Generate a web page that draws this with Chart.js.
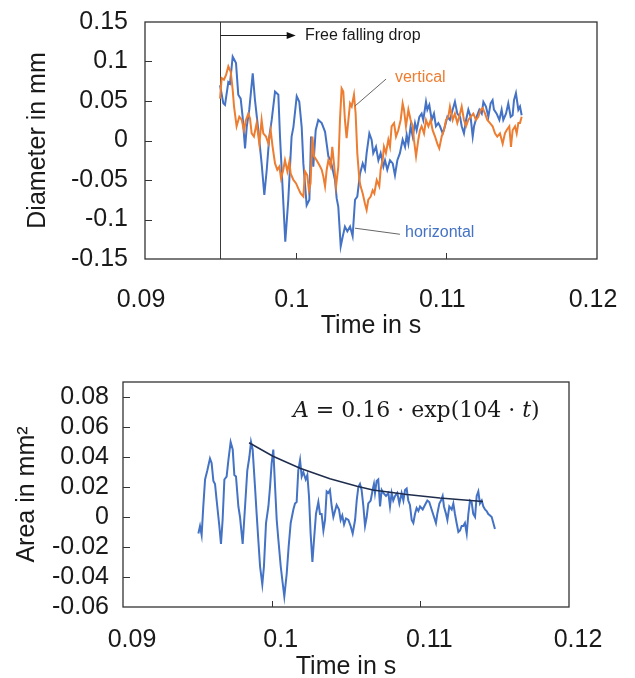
<!DOCTYPE html>
<html>
<head>
<meta charset="utf-8">
<title>Drop oscillation</title>
<script src="https://cdn.jsdelivr.net/npm/chart.js@4.4.0/dist/chart.umd.min.js"></script>
<style>
  html, body { margin: 0; padding: 0; background: #fff; overflow: hidden; }
  #wrap { position: relative; width: 635px; height: 678px; overflow: hidden; }
  canvas { position: absolute; left: 0; }
  #top { top: 0; }
  #bottom { top: 345px; }
</style>
</head>
<body>
<div id="wrap">
  <canvas id="top" width="635" height="345"></canvas>
  <canvas id="bottom" width="635" height="345"></canvas>
</div>
<script>
// times in ms, values in mm / mm²
const tHoriz = [94.98,95.20,95.31,95.53,95.64,95.82,96.04,96.19,96.35,96.48,96.64,96.75,96.92,97.15,97.30,97.52,97.74,97.92,98.08,98.25,98.41,98.63,98.85,98.96,99.14,99.31,99.51,99.73,99.85,100.07,100.24,100.40,100.51,100.73,100.91,101.02,101.17,101.33,101.50,101.73,101.95,102.17,102.32,102.46,102.61,102.72,102.83,102.99,103.12,103.27,103.43,103.61,103.78,103.94,104.09,104.27,104.45,104.60,104.71,104.89,105.04,105.15,105.33,105.49,105.64,105.82,105.93,106.08,106.26,106.44,106.59,106.75,106.92,107.10,107.26,107.37,107.48,107.63,107.77,107.92,108.03,108.21,108.36,108.47,108.65,108.74,108.87,109.03,109.18,109.31,109.47,109.58,109.76,109.91,110.07,110.24,110.42,110.57,110.73,110.91,111.02,111.17,111.31,111.46,111.61,111.75,111.84,112.01,112.19,112.35,112.46,112.63,112.79,112.94,113.07,113.16,113.34,113.52,113.67,113.78,113.96,114.11,114.27,114.40,114.49,114.62,114.78,114.89,115.00];
const dHoriz = [0.070,0.047,0.045,0.074,0.072,0.106,0.098,0.058,0.053,0.030,-0.010,0.017,0.039,0.085,0.051,0.013,-0.029,-0.069,-0.037,0.005,0.026,0.062,0.058,0.005,-0.063,-0.128,-0.075,0.005,0.017,0.056,0.049,0.017,-0.029,-0.082,-0.075,0.005,-0.033,0.013,0.026,0.022,0.011,-0.020,-0.025,-0.037,-0.050,-0.073,-0.084,-0.134,-0.122,-0.109,-0.115,-0.109,-0.121,-0.075,-0.071,-0.042,-0.029,-0.037,-0.016,0.009,0.001,-0.016,-0.008,-0.025,-0.016,-0.033,-0.025,-0.037,-0.025,-0.029,-0.044,-0.025,-0.016,0.001,-0.008,0.007,-0.004,0.018,0.005,0.022,0.013,0.030,0.034,0.026,0.049,0.039,0.045,0.026,0.034,0.018,0.022,0.018,0.009,0.018,0.030,0.026,0.039,0.049,0.034,0.030,0.018,0.009,0.026,0.039,0.030,0.005,0.018,0.030,0.039,0.034,0.049,0.043,0.030,0.047,0.051,0.039,0.034,0.026,0.039,0.026,0.034,0.047,0.030,0.032,0.051,0.060,0.039,0.043,0.032];

const tVert = [94.98,95.09,95.24,95.38,95.53,95.69,95.82,95.91,96.08,96.26,96.42,96.57,96.70,96.86,96.97,97.08,97.23,97.41,97.59,97.74,97.85,98.03,98.19,98.34,98.47,98.63,98.78,98.92,99.03,99.18,99.29,99.45,99.58,99.67,99.85,100.02,100.18,100.33,100.51,100.62,100.77,100.88,100.99,101.11,101.22,101.39,101.57,101.73,101.84,101.95,102.06,102.17,102.32,102.43,102.54,102.68,102.83,102.94,103.05,103.16,103.27,103.38,103.50,103.61,103.72,103.87,103.98,104.09,104.23,104.31,104.45,104.60,104.71,104.82,104.98,105.11,105.22,105.38,105.55,105.64,105.77,105.86,105.99,106.15,106.26,106.37,106.53,106.66,106.81,106.97,107.10,107.19,107.32,107.48,107.63,107.77,107.85,107.99,108.14,108.25,108.36,108.52,108.65,108.81,108.96,109.09,109.25,109.40,109.53,109.69,109.84,109.98,110.13,110.24,110.42,110.57,110.73,110.86,111.02,111.17,111.31,111.46,111.61,111.79,111.97,112.12,112.28,112.41,112.57,112.72,112.90,113.07,113.23,113.38,113.56,113.74,113.89,114.00,114.18,114.29,114.40,114.56,114.67,114.78,114.89,115.00];
const dVert = [0.053,0.079,0.077,0.083,0.094,0.087,0.064,0.043,0.018,0.030,0.026,0.013,0.026,0.034,0.028,0.009,0.005,0.022,-0.004,0.026,0.009,0.005,-0.004,0.013,-0.008,-0.029,-0.037,-0.033,-0.048,-0.037,-0.025,-0.039,-0.027,-0.042,-0.050,-0.054,-0.061,-0.067,-0.071,-0.039,-0.044,-0.063,-0.054,0.005,-0.020,-0.025,-0.031,-0.037,-0.046,-0.058,-0.037,-0.025,-0.033,-0.008,-0.029,-0.058,-0.033,0.026,0.066,0.062,0.026,0.003,0.026,0.047,0.043,0.058,0.034,-0.016,-0.050,-0.058,-0.067,-0.080,-0.088,-0.075,-0.071,-0.063,-0.067,-0.050,-0.058,-0.037,-0.025,-0.008,-0.016,0.001,-0.008,0.018,0.022,0.005,0.013,0.026,0.047,0.039,0.018,0.039,0.026,0.018,0.001,-0.020,0.001,0.013,0.018,0.009,0.026,0.018,0.026,0.013,0.005,-0.004,-0.010,0.005,0.013,0.026,0.030,0.043,0.026,0.034,0.022,0.030,0.043,0.026,0.018,0.026,0.030,0.034,0.026,0.030,0.039,0.041,0.034,0.026,0.022,0.018,0.009,0.005,0.009,-0.004,0.009,0.013,0.018,-0.008,0.013,0.018,0.009,0.022,0.022,0.030];

const tArea = [95.07,95.18,95.29,95.40,95.52,95.67,95.85,95.96,96.08,96.19,96.30,96.48,96.59,96.70,96.82,96.97,97.09,97.24,97.38,97.49,97.60,97.76,97.87,98.05,98.21,98.36,98.50,98.61,98.72,98.88,98.99,99.10,99.22,99.37,99.48,99.62,99.78,99.89,100.00,100.11,100.23,100.34,100.45,100.61,100.74,100.85,101.01,101.14,101.28,101.46,101.57,101.68,101.79,101.91,102.02,102.13,102.29,102.40,102.51,102.62,102.74,102.85,102.98,103.14,103.25,103.36,103.48,103.59,103.70,103.81,103.92,104.04,104.15,104.26,104.37,104.53,104.64,104.75,104.87,105.00,105.16,105.31,105.45,105.61,105.72,105.83,105.94,106.05,106.17,106.28,106.39,106.50,106.66,106.79,106.88,106.95,107.06,107.17,107.29,107.40,107.51,107.69,107.85,107.96,108.07,108.18,108.30,108.45,108.59,108.74,108.86,108.97,109.08,109.19,109.30,109.42,109.53,109.64,109.75,109.87,109.98,110.16,110.31,110.47,110.60,110.76,110.92,111.05,111.14,111.28,111.39,111.50,111.59,111.73,111.82,111.95,112.11,112.22,112.33,112.44,112.56,112.67,112.78,112.89,113.00,113.12,113.23,113.34,113.45,113.56,113.68,113.79,113.90,114.01,114.13,114.24,114.35,114.46,114.57,114.69,114.80,114.91,115.02];
const vArea = [-0.011,-0.006,-0.012,0.007,0.025,0.031,0.039,0.036,0.024,0.022,0.011,-0.006,-0.018,-0.002,0.025,0.027,0.038,0.050,0.045,0.028,0.027,0.007,0.000,-0.018,0.007,0.031,0.040,0.050,0.045,0.020,0.002,-0.015,-0.033,-0.045,-0.033,-0.004,0.007,0.020,0.036,0.045,0.020,-0.002,-0.015,-0.033,-0.044,-0.053,-0.038,-0.020,-0.004,0.005,0.009,0.010,0.031,0.038,0.027,0.030,0.025,0.028,0.014,-0.011,-0.030,-0.015,0.002,0.010,0.002,0.002,-0.009,-0.002,0.017,0.016,0.018,0.007,0.000,0.004,0.008,0.005,-0.002,0.001,-0.005,-0.001,-0.002,-0.006,-0.011,-0.002,0.011,0.020,0.022,0.018,0.007,-0.006,0.000,0.009,0.011,0.018,0.022,0.016,0.024,0.025,0.007,0.018,0.016,0.014,0.016,0.007,0.016,0.011,0.014,0.016,0.009,0.016,0.011,0.018,0.019,0.011,0.008,-0.002,-0.004,0.002,0.006,0.004,0.007,0.005,0.008,0.011,0.010,0.005,0.000,-0.004,0.002,0.009,0.011,0.014,0.007,0.002,-0.002,0.007,0.005,0.009,0.002,-0.004,-0.010,-0.009,-0.006,-0.006,-0.004,-0.011,0.002,0.011,0.010,0.002,0.000,0.014,0.017,0.009,0.011,0.007,0.005,0.004,0.002,0.001,0.000,-0.004,-0.008];

// exponential fit curve
const tFit = [98.48,100.09,101.91,103.92,105.74,106.81,109.10,111.32,114.21];
const vFit = [0.0495,0.0405,0.0325,0.0255,0.0205,0.0180,0.0150,0.0127,0.0104];

const xTicks = [0.09, 0.10, 0.11, 0.12];
const xTickLabels = ['0.09', '0.1', '0.11', '0.12'];
const yTicksTop = [-0.15, -0.1, -0.05, 0, 0.05, 0.1, 0.15];
const yTickLabelsTop = ['-0.15', '-0.1', '-0.05', '0', '0.05', '0.1', '0.15'];
const yTicksBottom = [-0.06, -0.04, -0.02, 0, 0.02, 0.04, 0.06, 0.08];
const yTickLabelsBottom = ['-0.06', '-0.04', '-0.02', '0', '0.02', '0.04', '0.06', '0.08'];

const FONT = "'Liberation Sans', Arial, sans-serif";
const INK = '#1a1a1a';
const BLUE = '#4472C4';
const ORANGE = '#ED7D31';

function pts(ts, vs) {
    return ts.map((t, i) => ({ x: t / 1000, y: vs[i] }));
}

function fixTicks(values) {
    return scale => { scale.ticks = values.map(v => ({ value: v })); };
}

function lineSet(label, data, color, width) {
    return { label, data, borderColor: color, backgroundColor: color, borderWidth: width, pointRadius: 0, tension: 0, fill: false };
}

function xAxis(o) {
    return {
        type: 'linear', min: 0.09, max: 0.12,
        afterBuildTicks: fixTicks(xTicks),
        afterFit: s => { s.height = o.height; s.paddingLeft = 0; s.paddingRight = 0; },
        grid: { display: false, drawTicks: false },
        border: { display: false },
        ticks: { padding: o.pad, labelOffset: o.offset, autoSkip: false, maxRotation: 0, color: INK,
                 font: { family: FONT, size: 25 }, callback: (v, i) => xTickLabels[i] },
        title: { display: true, text: 'Time in s', color: INK, font: { family: FONT, size: 25 },
                 padding: { top: 0, bottom: o.titlePad } }
    };
}

function yAxis(o) {
    return {
        type: 'linear', min: o.min, max: o.max,
        afterBuildTicks: fixTicks(o.ticks),
        afterFit: s => { s.width = o.width; s.paddingTop = 0; s.paddingBottom = 0; },
        grid: { display: false, drawTicks: false },
        border: { display: false },
        ticks: { padding: o.pad, autoSkip: false, color: INK, font: { family: FONT, size: 25 },
                 callback: (v, i) => o.labels[i] },
        title: { display: true, text: o.title, color: INK, font: { family: FONT, size: 25 },
                 padding: { top: o.titlePad, bottom: 0 } }
    };
}

// box round the plot and short tick marks pointing inward
function framePlugin(before, after) {
    return {
        id: 'frame',
        beforeDatasetsDraw(chart) { if (before) before(chart); },
        afterDatasetsDraw(chart) {
            const { ctx, chartArea: a, scales: { x, y } } = chart;
            ctx.save();
            ctx.strokeStyle = '#333';
            ctx.lineWidth = 1.3;
            ctx.strokeRect(a.left, a.top, a.right - a.left, a.bottom - a.top);
            ctx.lineWidth = 1;
            ctx.beginPath();
            x.ticks.forEach(t => {
                const px = Math.round(x.getPixelForValue(t.value)) + 0.5;
                if (px > a.left + 2 && px < a.right - 2) { ctx.moveTo(px, a.bottom); ctx.lineTo(px, a.bottom - 6); }
            });
            y.ticks.forEach(t => {
                const py = Math.round(y.getPixelForValue(t.value)) + 0.5;
                if (py > a.top + 2 && py < a.bottom - 2) { ctx.moveTo(a.left, py); ctx.lineTo(a.left + 7, py); }
            });
            ctx.stroke();
            ctx.restore();
            if (after) after(chart);
        }
    };
}

// annotation anchors, in ms and mm
const dropStart = 95.0;
const arrowEnd = 100.0;
const arrowLevel = 0.1335;

function topMarker(chart) {
    const { ctx, chartArea: a, scales: { x } } = chart;
    const px = Math.round(x.getPixelForValue(dropStart / 1000)) + 0.5;
    ctx.save();
    ctx.strokeStyle = '#3a3a3a';
    ctx.lineWidth = 1;
    ctx.beginPath(); ctx.moveTo(px, a.top); ctx.lineTo(px, a.bottom); ctx.stroke();
    ctx.restore();
}

function topNotes(chart) {
    const { ctx, scales: { x, y } } = chart;
    const X = t => x.getPixelForValue(t / 1000);
    const Y = v => y.getPixelForValue(v);
    ctx.save();
    const ay = Math.round(Y(arrowLevel)) + 0.5;
    ctx.strokeStyle = '#222';
    ctx.lineWidth = 1;
    ctx.beginPath(); ctx.moveTo(X(dropStart), ay); ctx.lineTo(X(arrowEnd) - 6, ay); ctx.stroke();
    ctx.fillStyle = '#111';
    ctx.beginPath();
    ctx.moveTo(X(arrowEnd), ay);
    ctx.lineTo(X(arrowEnd) - 9, ay - 3.5);
    ctx.lineTo(X(arrowEnd) - 9, ay + 3.5);
    ctx.closePath(); ctx.fill();

    ctx.font = '16px ' + FONT;
    ctx.textBaseline = 'middle';
    ctx.fillStyle = INK;
    ctx.fillText('Free falling drop', X(100.62), ay);

    ctx.strokeStyle = '#666';
    ctx.beginPath();
    ctx.moveTo(X(103.94), Y(0.0437)); ctx.lineTo(X(106.0), Y(0.0778));
    ctx.moveTo(X(103.94), Y(-0.111)); ctx.lineTo(X(106.92), Y(-0.1187));
    ctx.stroke();

    ctx.textBaseline = 'alphabetic';
    ctx.fillStyle = ORANGE;
    ctx.fillText('vertical', X(106.59), Y(0.074));
    ctx.fillStyle = BLUE;
    ctx.fillText('horizontal', X(107.26), Y(-0.1218));
    ctx.restore();
}

function bottomNotes(chart) {
    const { ctx, scales: { x, y } } = chart;
    let px = x.getPixelForValue(101.43 / 1000);
    const py = y.getPixelForValue(0.0669);
    const parts = [['A', true], [' = 0.16 · exp(104 · ', false], ['t', true], [')', false]];
    ctx.save();
    ctx.fillStyle = INK;
    ctx.textBaseline = 'alphabetic';
    parts.forEach(([s, it]) => {
        ctx.font = (it ? 'italic ' : '') + "22px 'DejaVu Serif', serif";
        ctx.fillText(s, px, py);
        px += ctx.measureText(s).width;
    });
    ctx.restore();
}

new Chart(document.getElementById('top'), {
    type: 'line',
    data: {
        datasets: [
            lineSet('vertical', pts(tVert, dVert), ORANGE, 2),
            lineSet('horizontal', pts(tHoriz, dHoriz), BLUE, 2)
        ]
    },
    options: {
        responsive: false,
        animation: false,
        devicePixelRatio: 1,
        layout: { padding: { left: 0, right: 38, top: 22, bottom: 0 } },
        plugins: { legend: { display: false }, tooltip: { enabled: false } },
        scales: {
            x: xAxis({ height: 86, pad: 26, offset: -4, titlePad: 4 }),
            y: yAxis({ min: -0.15, max: 0.15, ticks: yTicksTop, labels: yTickLabelsTop, width: 145, pad: 17,
                       title: 'Diameter in mm', titlePad: 23 })
        }
    },
    plugins: [framePlugin(topMarker, topNotes)]
});

new Chart(document.getElementById('bottom'), {
    type: 'line',
    data: {
        datasets: [
            lineSet('fit', pts(tFit, vFit), '#1F2D4D', 1.5),
            lineSet('area', pts(tArea, vArea), BLUE, 2)
        ]
    },
    options: {
        responsive: false,
        animation: false,
        devicePixelRatio: 1,
        layout: { padding: { left: 0, right: 66, top: 37, bottom: 0 } },
        plugins: { legend: { display: false }, tooltip: { enabled: false } },
        scales: {
            x: xAxis({ height: 83, pad: 18, offset: 9, titlePad: 8 }),
            y: yAxis({ min: -0.06, max: 0.09, ticks: yTicksBottom, labels: yTickLabelsBottom, width: 123, pad: 14,
                       title: 'Area in mm²', titlePad: 12 })
        }
    },
    plugins: [framePlugin(null, bottomNotes)]
});
</script>
</body>
</html>
